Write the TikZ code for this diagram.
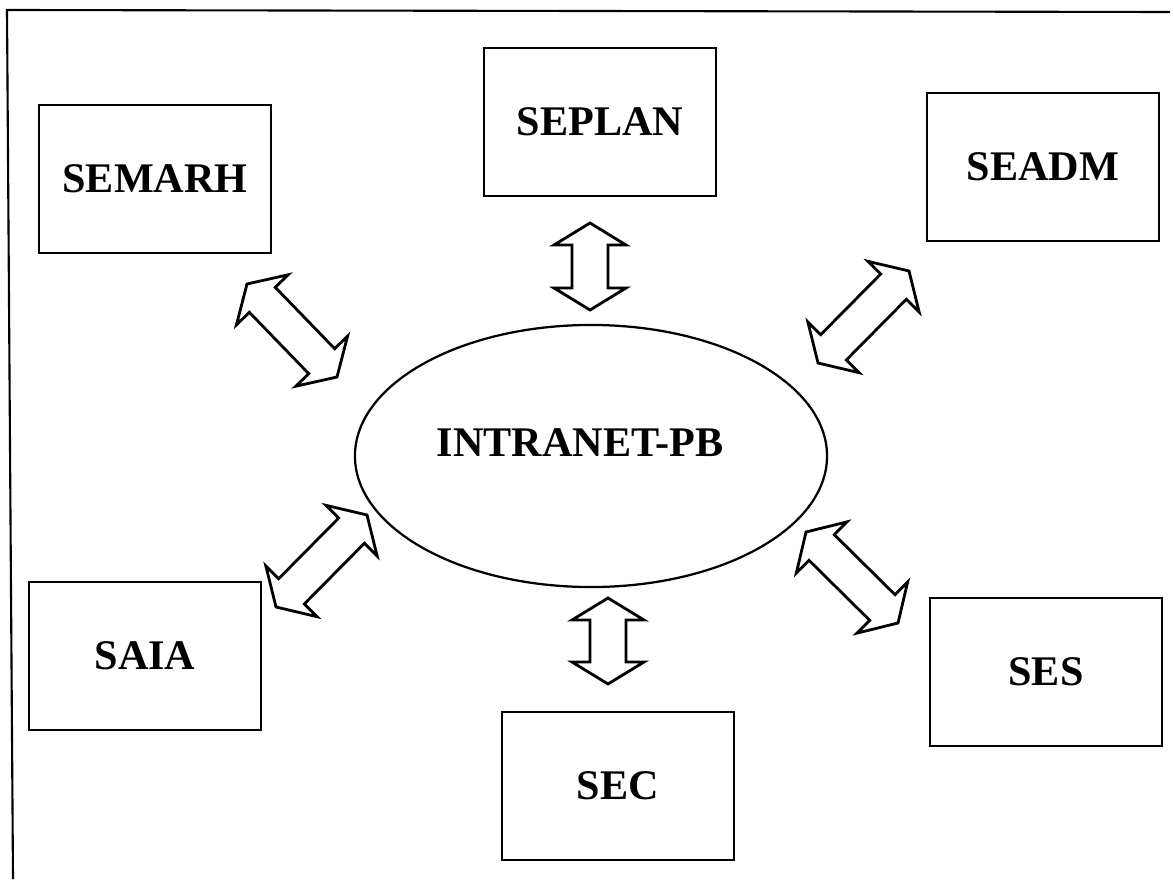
\documentclass[tikz,border=0pt]{standalone}
\usepackage{fontspec}
\setmainfont{Liberation Serif}
\usetikzlibrary{calc, positioning, shapes.geometric}

\begin{document}
\begin{tikzpicture}[x=0.025cm,y=-0.025cm,
  office/.style={draw, line width=1.9pt, minimum width=5.8cm, minimum height=3.7cm,
    font=\bfseries\fontsize{30}{36}\selectfont},
  net/.style={draw, ellipse, line width=1.6pt, minimum width=11.8cm, minimum height=6.55cm, inner sep=0pt},
  twoway/.style={line width=2pt, line join=miter}]
\useasboundingbox (0,0) rectangle (1174,879);
% Frame, only top and left side are printed
\draw[line width=1.5pt] (6,10) -- (1170,12);
\draw[line width=1.5pt] (7,10) -- (13,879);
% The network in the middle
\node[net] (net) at (591,456) {};
\node[font=\bfseries\fontsize{30}{36}\selectfont] (nettext) at (580,443) {INTRANET-PB};
% The offices around it
\node[office] (semarh) at (155,179) {SEMARH};
\node[office] (seplan) at (600,122) {SEPLAN};
\node[office] (seadm) at (1043,167) {SEADM};
\node[office] (saia) at (145,656) {SAIA};
\node[office] (ses) at (1046,672) {SES};
\node[office] (sec) at (618,786) {SEC};
% Tips of the double arrows
\coordinate (nw1) at (247,284); \coordinate (nw2) at (337,377);
\coordinate (n1) at (590,223);  \coordinate (n2) at (590,310);
\coordinate (ne1) at (909,271); \coordinate (ne2) at (818,363);
\coordinate (sw1) at (367,515); \coordinate (sw2) at (276,607);
\coordinate (s1) at (608,598);  \coordinate (s2) at (608,684);
\coordinate (se1) at (806,532); \coordinate (se2) at (898,623);
% Draw each double arrow as one outline
\foreach \a/\b in {nw1/nw2, n1/n2, ne1/ne2, sw1/sw2, s1/s2, se1/se2}
  \draw[twoway] (\a)
    -- ($(\a)!0.55cm!(\b)!0.9cm!90:(\b)$)
    -- ($(\a)!0.55cm!(\b)!0.45cm!90:(\b)$)
    -- ($(\b)!0.55cm!(\a)!0.45cm!-90:(\a)$)
    -- ($(\b)!0.55cm!(\a)!0.9cm!-90:(\a)$)
    -- (\b)
    -- ($(\b)!0.55cm!(\a)!0.9cm!90:(\a)$)
    -- ($(\b)!0.55cm!(\a)!0.45cm!90:(\a)$)
    -- ($(\a)!0.55cm!(\b)!0.45cm!-90:(\b)$)
    -- ($(\a)!0.55cm!(\b)!0.9cm!-90:(\b)$)
    -- cycle;
\end{tikzpicture}
\end{document}
